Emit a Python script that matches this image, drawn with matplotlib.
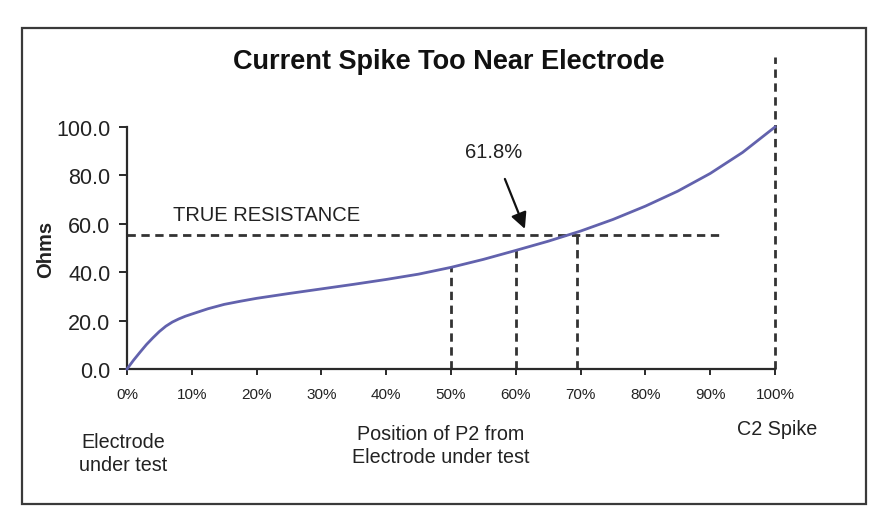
import matplotlib
matplotlib.use("Agg")
import matplotlib.pyplot as plt
from matplotlib.patches import Rectangle

plt.rcParams['font.family'] = ['Liberation Sans', 'DejaVu Sans']

# ---- data ----
position_pct = [0, 1, 2, 3, 4, 5, 6, 7, 8, 9, 10, 12.5, 15, 17.5, 20, 25, 30,
                35, 40, 45, 50, 55, 60, 65, 70, 75, 80, 85, 90, 95, 100]
ohms = [0, 3.6, 6.9, 10.1, 12.9, 15.5, 17.7, 19.4, 20.7, 21.8, 22.7, 24.9,
        26.7, 28.0, 29.2, 31.2, 33.1, 35.0, 37.0, 39.2, 42.0, 45.3, 49.0,
        52.8, 57.0, 61.8, 67.3, 73.5, 80.8, 89.5, 100]
true_resistance = 55.4
true_line_end = 91.5
drop_x = [50, 60, 69.5]
drop_top = [42, 49, true_resistance]
spike_x = 100
spike_top = 129
arrow_label = "61.8%"
arrow_tip = (61.4, 57.9)
x_ticks = [0, 10, 20, 30, 40, 50, 60, 70, 80, 90, 100]
x_ticklabels = [f"{v}%" for v in x_ticks]
y_ticks = [0, 20, 40, 60, 80, 100]
y_ticklabels = [f"{v:.1f}" for v in y_ticks]
title = "Current Spike Too Near Electrode"

W, H = 877, 510
fig = plt.figure(figsize=(W / 100, H / 100), dpi=100)
fig.patch.set_facecolor("white")

# outer frame
fig.patches.append(Rectangle((22 / W, 1 - 505 / H), (866 - 22) / W, (505 - 29) / H,
                             transform=fig.transFigure, fill=False,
                             edgecolor="#3a3a3a", linewidth=1.6))

ax = fig.add_axes([127 / W, 1 - 370 / H, 648 / W, 242 / H])
ax.set_xlim(0, 100)
ax.set_ylim(0, 100)
ax.set_facecolor("none")
for s in ["top", "right"]:
    ax.spines[s].set_visible(False)
for s in ["left", "bottom"]:
    ax.spines[s].set_color("#2a2a2a")
    ax.spines[s].set_linewidth(1.6)

ax.set_xticks(x_ticks)
ax.set_xticklabels(x_ticklabels, fontsize=11)
ax.set_yticks(y_ticks)
ax.set_yticklabels(y_ticklabels, fontsize=15.5)
ax.tick_params(axis="x", direction="out", length=4, width=1.4, pad=9, colors="#2a2a2a")
ax.tick_params(axis="y", direction="out", length=6, width=1.4, pad=6, colors="#2a2a2a")
for lab in ax.get_xticklabels() + ax.get_yticklabels():
    lab.set_color("#222222")

ax.set_ylabel("Ohms", fontsize=14.5, fontweight="bold", color="#222222", labelpad=1)

dash = dict(color="#333333", linewidth=2.0, linestyle=(0, (3, 2)))
ax.plot([0, true_line_end], [true_resistance, true_resistance], **dash)
for xv, top in zip(drop_x, drop_top):
    ax.plot([xv, xv], [0, top], **dash)
ax.plot([spike_x, spike_x], [0, spike_top], clip_on=False, **dash)

ax.plot(position_pct, ohms, color="#6262ad", linewidth=2.0, clip_on=False,
        zorder=5, solid_joinstyle="round")

ax.text(7.1, 64, "TRUE RESISTANCE", fontsize=14.5, color="#222222",
        ha="left", va="center")
ax.annotate(arrow_label, xy=arrow_tip, xytext=(56.6, 90), fontsize=14.5,
            color="#222222", ha="center", va="center",
            arrowprops=dict(arrowstyle="-|>", color="#111111", lw=1.6,
                            mutation_scale=24, shrinkA=12, shrinkB=0))

fig.text(449 / W, 1 - 62 / H, title, fontsize=19.5, fontweight="bold",
         ha="center", va="center", color="#111111")

fig.text(123 / W, 1 - 454 / H, "Electrode\nunder test", fontsize=14.2,
         ha="center", va="center", color="#222222", linespacing=1.3)
fig.text(441 / W, 1 - 446 / H, "Position of P2 from\nElectrode under test",
         fontsize=14.2, ha="center", va="center", color="#222222", linespacing=1.3)
fig.text(777 / W, 1 - 430 / H, "C2 Spike", fontsize=14.2,
         ha="center", va="center", color="#222222")

fig.savefig("out.png", dpi=100)
